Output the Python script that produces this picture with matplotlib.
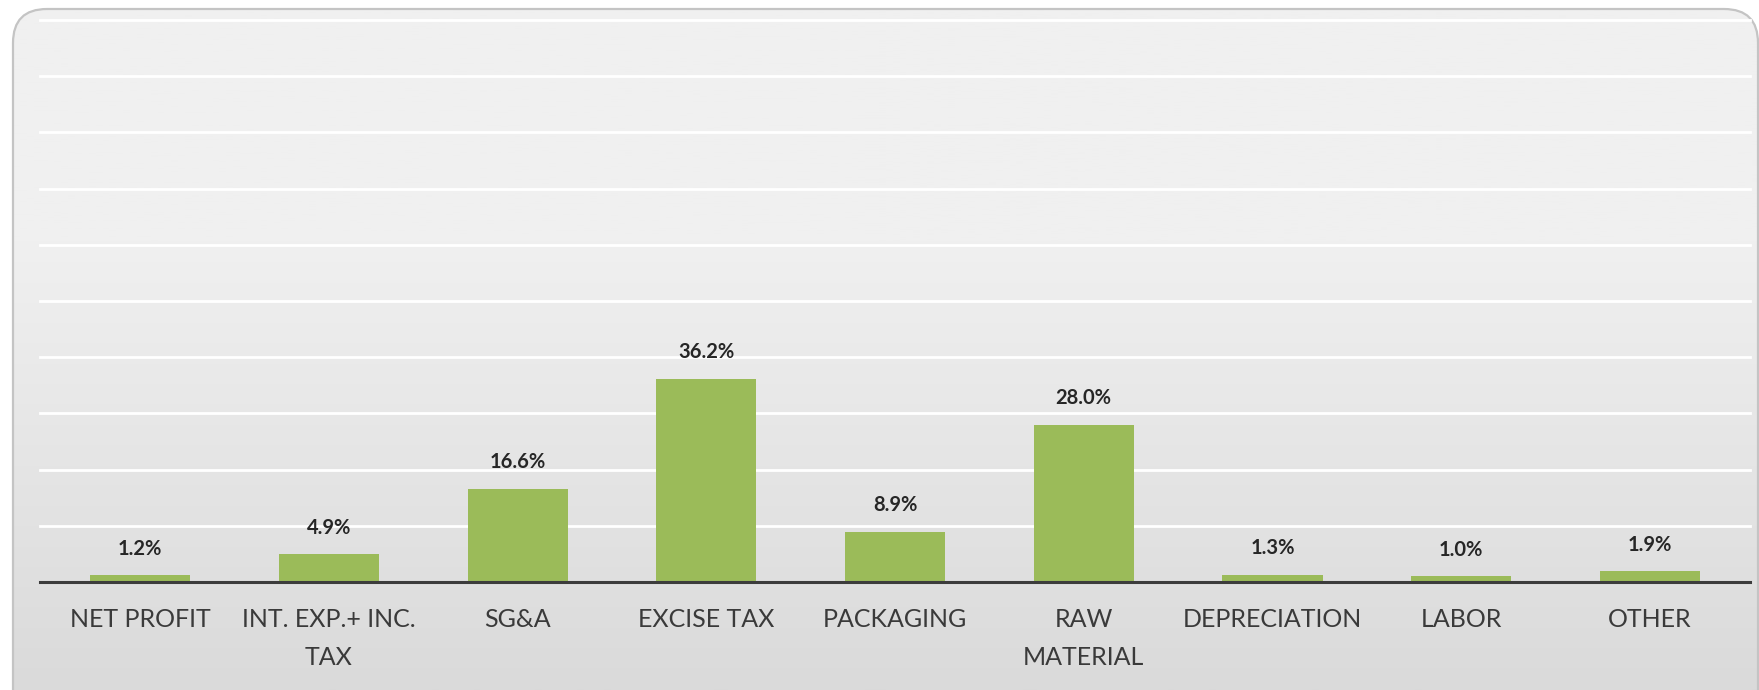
import numpy as np
import matplotlib
matplotlib.use("Agg")
import matplotlib.pyplot as plt
from matplotlib.patches import FancyBboxPatch


categories = ["NET PROFIT", "INT. EXP.+ INC.\nTAX", "SG&A", "EXCISE TAX", "PACKAGING",
              "RAW\nMATERIAL", "DEPRECIATION", "LABOR", "OTHER"]
values = [1.2, 4.9, 16.6, 36.2, 8.9, 28.0, 1.3, 1.0, 1.9]
labels = ["1.2%", "4.9%", "16.6%", "36.2%", "8.9%", "28.0%", "1.3%", "1.0%", "1.9%"]
grid_levels = [10, 20, 30, 40, 50, 60, 70, 80, 90, 100]

W, H = 1759, 690
fig = plt.figure(figsize=(W / 100, H / 100), dpi=100)
fig.patch.set_facecolor("white")

# background panel with soft gradient and rounded corners
bg = fig.add_axes([0, 0, 1, 1])
bg.set_xlim(0, W)
bg.set_ylim(H, 0)
bg.axis("off")
box = FancyBboxPatch((13, 9), W - 14, H + 30, boxstyle="round,pad=0,rounding_size=34",
                     facecolor="none", edgecolor="#c4c4c4", linewidth=1.6, zorder=3)
bg.add_patch(box)
grad = np.linspace(0, 1, 256).reshape(-1, 1)
grad = np.clip((grad - 0.35) / 0.65, 0, 1)
top = np.array([240, 240, 240]) / 255.0
bot = np.array([218, 218, 218]) / 255.0
img = top + (bot - top) * grad[:, :, None]
im = bg.imshow(img, extent=[0, W, H, 0], aspect="auto", zorder=1)
im.set_clip_path(box)

# y scale: 100 units span from baseline (582 px) to top gridline (20 px)
ymax = 101.5
ax_top = 582 - 562 * ymax / 100
ax = fig.add_axes([40 / W, 1 - 582 / H, (1750 - 40) / W, (582 - ax_top) / H])
ax.patch.set_alpha(0)
x = np.arange(len(categories))
ax.bar(x, values, width=0.53, color="#9bbb59", zorder=3)

for lv in grid_levels:
    ax.axhline(lv, color="white", linewidth=2.0, zorder=1, clip_on=False)

for xi, v, lab in zip(x, values, labels):
    ax.annotate(lab, (xi, v), xytext=(0, 12), textcoords="offset points",
                ha="center", va="bottom", fontsize=14.5, fontweight="bold",
                color="#262626", family="Lato")

ax.set_xlim(-0.53, 8.53)
ax.set_ylim(0, ymax)
ax.set_yticks([])
ax.set_xticks(x)
ax.set_xticklabels(categories, fontsize=18, color="#3a3a3a", family="Lato", linespacing=1.75)
ax.tick_params(axis="x", length=0, pad=19)
for s in ["top", "right", "left"]:
    ax.spines[s].set_visible(False)
ax.spines["bottom"].set_color("#3c3c3c")
ax.spines["bottom"].set_linewidth(2.2)
ax.spines["bottom"].set_zorder(4)

fig.savefig("out.png", dpi=100)
